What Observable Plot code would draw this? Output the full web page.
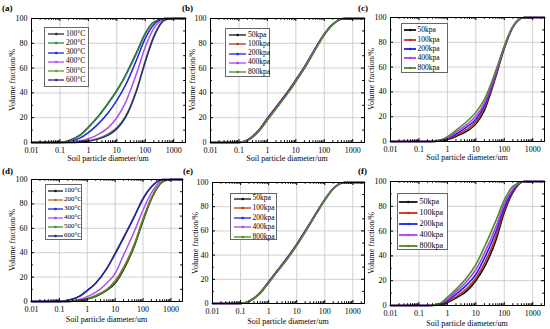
<!DOCTYPE html>
<html><head><meta charset="utf-8">
<script src="https://cdn.jsdelivr.net/npm/d3@7"></script>
<script src="https://cdn.jsdelivr.net/npm/@observablehq/plot@0.6"></script>
<style>
body{margin:0;background:#fff;}
#root{position:relative;width:550px;height:329px;overflow:hidden;background:#fff;font-family:"Liberation Serif","Times New Roman",serif;color:#000;}
.plot{position:absolute;}
.ytitle{position:absolute;white-space:nowrap;font-size:8.2px;transform:translate(-50%,-50%) rotate(-90deg);}
.xtitle{position:absolute;white-space:nowrap;font-size:8px;line-height:1;transform:translate(-50%,-50%);}
.plabel{position:absolute;font-weight:bold;font-size:9px;}
.legend{position:absolute;border:1px solid #666;background:#fff;box-sizing:border-box;}
.lrow{position:absolute;white-space:nowrap;line-height:1;}
</style></head>
<body><div id="root"></div>
<script>
// ---------- data ----------
const diameters = [0.01, 0.1, 0.2, 0.5, 1, 2, 5, 10, 20, 50, 100, 200, 500, 1000, 2600];
const xTicks = [0.01, 0.1, 1, 10, 100, 1000];
const yTicks = [0, 20, 40, 60, 80, 100];
const yMinor = [10, 30, 50, 70, 90];
const tempNames = ["100°C", "200°C", "300°C", "400°C", "500°C", "600°C"];
const loadNames = ["50kpa", "100kpa", "200kpa", "400kpa", "800kpa"];

// panel (a)
const a100 = [0, 0, 1.5, 6, 12.5, 20, 32, 42, 54, 73, 88, 97, 100, 100, 100];
const a200 = [0, 0, 1.2, 5.5, 12, 19.5, 31.5, 41.5, 53.5, 72, 87.5, 96.8, 100, 100, 100];
const a300 = [0, 0, 0.6, 3.5, 8, 14, 24, 34, 46, 67, 84, 95, 100, 100, 100];
const a400 = [0, 0, 0.2, 1.2, 3, 6, 12, 20, 32, 56, 77, 92, 99.5, 100, 100];
const a500 = [0, 0, 0, 0.4, 1.3, 3, 7, 12, 21, 43, 66, 86, 99, 100, 100];
const a600 = [0, 0, 0, 0.3, 1, 2.5, 6, 11, 20, 42, 65, 85, 99, 100, 100];
// panel (b)
const b50  = [0, 0, 2, 10, 19.5, 28.5, 40.5, 50.5, 61, 76.5, 87.5, 95.5, 100, 100, 100];
const b100 = [0, 0, 1.9, 9.8, 19.2, 28.2, 40.2, 50.2, 60.7, 76.2, 87.3, 95.4, 100, 100, 100];
const b200 = [0, 0, 1.8, 9.5, 18.8, 27.8, 39.8, 49.8, 60.3, 75.9, 87.1, 95.3, 100, 100, 100];
const b400 = [0, 0, 1.7, 9.2, 18.4, 27.4, 39.4, 49.4, 59.9, 75.6, 86.9, 95.2, 100, 100, 100];
const b800 = [0, 0, 1.6, 8.9, 18, 27, 39, 49, 59.5, 75.3, 86.7, 95.1, 100, 100, 100];
// panel (c)
const c50  = [0, 0, 0, 0.3, 1.5, 4, 8.5, 14, 25, 52, 75, 92, 100, 100, 100];
const c100 = [0, 0, 0, 0.4, 2, 5, 10, 16, 27, 53, 75.5, 92, 100, 100, 100];
const c200 = [0, 0, 0, 0.5, 2.5, 6, 12, 18, 29, 54, 76, 92.5, 100, 100, 100];
const c400 = [0, 0, 0, 0.6, 3, 7.5, 14, 20.5, 31, 55, 76.5, 92.5, 100, 100, 100];
const c800 = [0, 0, 0, 0.8, 4, 9, 16.5, 23.5, 34, 57, 77, 93, 100, 100, 100];
// panel (d)
const d100 = [0, 0, 0, 0.8, 2, 4, 9, 15, 26, 46, 66, 84, 98, 100, 100];
const d200 = [0, 0, 0, 1, 2.5, 5, 10, 17, 28, 48, 68, 85, 98.5, 100, 100];
const d300 = [0, 0, 1, 4, 9, 15, 27, 39, 52, 70, 84, 94, 100, 100, 100];
const d400 = [0, 0, 0.3, 1.5, 4, 7.5, 15, 23, 38, 58, 75, 89, 99.5, 100, 100];
const d500 = [0, 0, 0, 1, 2.3, 4.5, 9.5, 16, 27, 47, 67, 85, 98, 100, 100];
const d600 = [0, 0, 1, 4, 9, 15, 27, 39.5, 52.5, 70.5, 84.5, 94, 100, 100, 100];
// panel (e)
const e50  = [0, 0, 2, 9, 18, 27, 39, 49, 60, 75, 86, 95, 100, 100, 100];
const e100 = [0, 0, 2, 8.8, 17.8, 26.8, 38.7, 48.7, 59.7, 74.8, 85.8, 94.9, 100, 100, 100];
const e200 = [0, 0, 1.9, 8.6, 17.5, 26.5, 38.4, 48.4, 59.4, 74.5, 85.6, 94.8, 100, 100, 100];
const e400 = [0, 0, 1.8, 8.4, 17.2, 26.2, 38.1, 48.1, 59.1, 74.3, 85.4, 94.7, 100, 100, 100];
const e800 = [0, 0, 1.7, 8.2, 17, 26, 37.8, 47.8, 58.8, 74, 85.2, 94.6, 100, 100, 100];
// panel (f)
const f50  = [0, 0, 0, 0.5, 2.5, 6, 12, 20, 31, 52, 75, 91, 100, 100, 100];
const f100 = [0, 0, 0, 0.6, 3, 7, 14, 22, 34, 55, 77, 92, 100, 100, 100];
const f200 = [0, 0, 0, 0.8, 4, 9, 17, 25, 38, 59, 79, 93, 100, 100, 100];
const f400 = [0, 0, 0, 1, 5, 11, 20, 29, 42, 63, 82, 94, 100, 100, 100];
const f800 = [0, 0, 0, 1.3, 6.5, 13, 23, 33, 47, 68, 85, 96, 100, 100, 100];

// ---------- styling ----------
const tempColorsA = ["#2a2a2a", "#2e8a4a", "#2323e0", "#b04cf0", "#5f9a35", "#2a2a85"];
const tempColorsD = ["#1a1a1a", "#c8641e", "#2323e0", "#b04cf0", "#3f8f2f", "#2a2a85"];
const loadColors  = ["#111111", "#c0301c", "#2020ee", "#b040ee", "#4a8a2a"];

const xMinor = d3.scaleLog().domain([0.01, 2600]).ticks()
  .filter(t => Math.abs(Math.log10(t) - Math.round(Math.log10(t))) > 1e-6);

const root = document.getElementById("root");

function addDiv(cls, text, css) {
  const el = document.createElement("div");
  el.className = cls;
  el.textContent = text;
  Object.assign(el.style, css);
  root.appendChild(el);
  return el;
}

function drawPanel(p) {
  const ml = 34, mr = 4, mt = 4, mb = 15;
  const W = p.x1 - p.x0, H = p.y1 - p.y0;
  const marks = [
    Plot.gridX(xTicks, {stroke: "#c4c4c4", strokeOpacity: 1, strokeWidth: 0.8}),
    Plot.gridY(yTicks, {stroke: "#c4c4c4", strokeOpacity: 1, strokeWidth: 0.8})
  ];
  p.values.forEach((vals, k) => {
    const rows = diameters.map((d, i) => ({d, v: vals[i]}));
    marks.push(Plot.line(rows, {x: "d", y: "v", stroke: p.colors[k], strokeWidth: p.lw || 1.5, curve: "monotone-x"}));
  });
  // inward ticks
  marks.push(Plot.ruleX(xTicks, {x: d => d, insetTop: H - 3, stroke: "#000"}));
  marks.push(Plot.ruleX(xTicks, {x: d => d, insetBottom: H - 3, stroke: "#000"}));
  marks.push(Plot.ruleX(xMinor, {x: d => d, insetTop: H - 1.8, stroke: "#000"}));
  marks.push(Plot.ruleX(xMinor, {x: d => d, insetBottom: H - 1.8, stroke: "#000"}));
  marks.push(Plot.ruleY(yTicks, {y: d => d, insetRight: W - 3, stroke: "#000"}));
  marks.push(Plot.ruleY(yTicks, {y: d => d, insetLeft: W - 3, stroke: "#000"}));
  marks.push(Plot.ruleY(yMinor, {y: d => d, insetRight: W - 1.8, stroke: "#000"}));
  marks.push(Plot.ruleY(yMinor, {y: d => d, insetLeft: W - 1.8, stroke: "#000"}));
  marks.push(Plot.frame({stroke: "#000", strokeWidth: 1}));

  const chart = Plot.plot({
    width: W + ml + mr, height: H + mt + mb,
    marginLeft: ml, marginRight: mr, marginTop: mt, marginBottom: mb,
    style: {fontFamily: '"Liberation Serif", serif', fontSize: "8px", background: "transparent", color: "#000"},
    x: {type: "log", domain: [0.01, 2600], ticks: xTicks, tickFormat: d => String(d), tickSize: 0, tickPadding: 5, label: null},
    y: {domain: [0, 100], ticks: yTicks, tickSize: 0, tickPadding: 4, label: null},
    marks
  });
  chart.classList.add("plot");
  chart.style.left = (p.x0 - ml) + "px";
  chart.style.top = (p.y0 - mt) + "px";
  root.appendChild(chart);

  addDiv("plabel", p.label, {left: p.lab[0] + "px", top: p.lab[1] + "px"});
  addDiv("ytitle", "Volume fraction/%", {left: p.yt + "px", top: ((p.y0 + p.y1) / 2) + "px"});
  addDiv("xtitle", "Soil particle diameter/um", {left: ((p.x0 + p.x1) / 2) + "px", top: p.xt + "px"});

  const L = p.leg;
  const box = document.createElement("div");
  box.className = "legend";
  Object.assign(box.style, {left: L.x0 + "px", top: L.y0 + "px", width: (L.x1 - L.x0) + "px", height: (L.y1 - L.y0) + "px"});
  root.appendChild(box);
  p.names.forEach((name, k) => {
    const cy = L.r0 + k * L.dy - L.y0;
    const ns = "http://www.w3.org/2000/svg";
    const svg = document.createElementNS(ns, "svg");
    const len = L.lx1 - L.lx0;
    svg.setAttribute("width", len);
    svg.setAttribute("height", 6);
    svg.style.position = "absolute";
    svg.style.left = (L.lx0 - L.x0) + "px";
    svg.style.top = (cy - 3) + "px";
    const ln = document.createElementNS(ns, "line");
    ln.setAttribute("x1", 0); ln.setAttribute("x2", len);
    ln.setAttribute("y1", 3); ln.setAttribute("y2", 3);
    ln.setAttribute("stroke", p.colors[k]); ln.setAttribute("stroke-width", L.lw || 1.3);
    svg.appendChild(ln);
    const m = document.createElementNS(ns, "circle");
    m.setAttribute("cx", len / 2); m.setAttribute("cy", 3); m.setAttribute("r", 1.3);
    m.setAttribute("fill", p.colors[k]);
    svg.appendChild(m);
    box.appendChild(svg);
    const t = document.createElement("div");
    t.className = "lrow";
    t.textContent = name;
    Object.assign(t.style, {left: (L.tx - L.x0) + "px", top: (cy - L.fs * 0.55) + "px", fontSize: L.fs + "px"});
    box.appendChild(t);
  });
}

const panels = [
  {label: "(a)", lab: [2, 3], x0: 31, x1: 185, y0: 18, y1: 142, yt: 12, xt: 159,
   names: tempNames, colors: tempColorsA, values: [a100, a200, a300, a400, a500, a600],
   leg: {x0: 44, y0: 27, x1: 89, y1: 87, r0: 33.3, dy: 9.1, lx0: 46.5, lx1: 63, tx: 65, fs: 7.5}},
  {label: "(b)", lab: [182, 3], x0: 210, x1: 364, y0: 18, y1: 142, yt: 192, xt: 159,
   names: loadNames, colors: loadColors, values: [b50, b100, b200, b400, b800],
   leg: {x0: 225, y0: 28, x1: 270, y1: 77, r0: 34.3, dy: 9.1, lx0: 227.5, lx1: 245, tx: 247, fs: 7.5}},
  {label: "(c)", lab: [358, 3], x0: 390, x1: 544, y0: 17, y1: 141, yt: 371, xt: 158,
   names: loadNames, colors: loadColors, values: [c50, c100, c200, c400, c800],
   leg: {x0: 401, y0: 22.5, x1: 448, y1: 73, r0: 29.3, dy: 9.35, lx0: 402.5, lx1: 415, tx: 416.5, fs: 7.5, lw: 1.8}},
  {label: "(d)", lab: [2, 166], x0: 31, x1: 182, y0: 179, y1: 301, yt: 12, xt: 319.5,
   names: tempNames, colors: tempColorsD, values: [d100, d200, d300, d400, d500, d600],
   leg: {x0: 45, y0: 184, x1: 82, y1: 240, r0: 190, dy: 9, lx0: 46.5, lx1: 61.5, tx: 63, fs: 7}},
  {label: "(e)", lab: [183, 166], x0: 212, x1: 364, y0: 182, y1: 303, yt: 195, xt: 321.5,
   names: loadNames, colors: loadColors, values: [e50, e100, e200, e400, e800],
   leg: {x0: 230, y0: 193, x1: 277, y1: 240, r0: 197.5, dy: 9.6, lx0: 232.5, lx1: 250, tx: 251.5, fs: 7.5}},
  {label: "(f)", lab: [358, 166], x0: 390, x1: 544, y0: 181, y1: 305, yt: 371, xt: 323.5,
   names: loadNames, colors: loadColors, values: [f50, f100, f200, f400, f800], lw: 1.6,
   leg: {x0: 396.5, y0: 193, x1: 447.5, y1: 250, r0: 201, dy: 11, lx0: 398, lx1: 416.5, tx: 418.5, fs: 8, lw: 1.8}}
];

panels.forEach(drawPanel);
</script>
</body></html>
